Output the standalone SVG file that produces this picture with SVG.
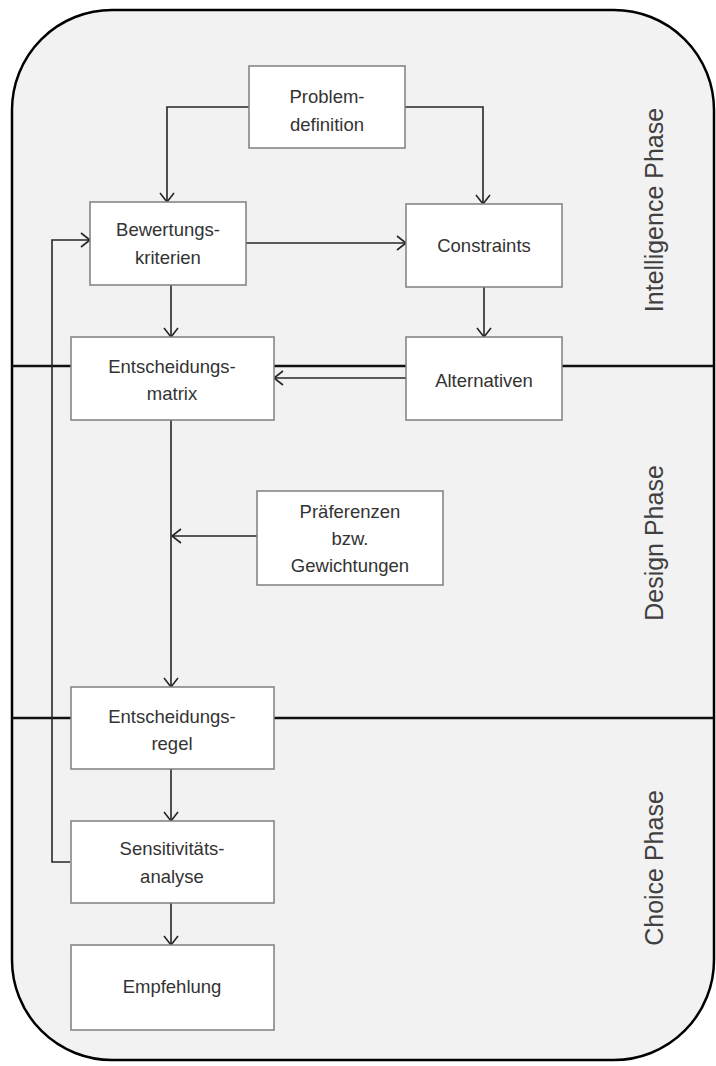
<svg xmlns="http://www.w3.org/2000/svg" width="716" height="1066" viewBox="0 0 716 1066">
<defs>
<marker id="arr" markerUnits="userSpaceOnUse" markerWidth="14" markerHeight="16" refX="10" refY="8" orient="auto">
<path d="M1,1 L10,8 L1,15" fill="none" stroke="#262626" stroke-width="1.6"/>
</marker>
<style>
.node rect{fill:#ffffff;stroke:#7f7f7f;stroke-width:1.5}
.node text{font-family:"Liberation Sans",Arial,sans-serif;font-size:18.5px;fill:#333333;text-anchor:middle;dominant-baseline:central}
.phase{font-family:"Liberation Sans",Arial,sans-serif;font-size:25px;fill:#404040;text-anchor:middle}
.pl{stroke:#111111;stroke-width:2.5;fill:none}
.c{stroke:#262626;stroke-width:1.6;fill:none;marker-end:url(#arr)}
</style>
</defs>
<rect x="12" y="10" width="702" height="1050" rx="100" ry="100" fill="#f2f2f2" stroke="#000000" stroke-width="2.5"/>
<g id="phases">
<line class="pl" x1="12" y1="366" x2="714" y2="366"/>
<line class="pl" x1="12" y1="718" x2="714" y2="718"/>
<text class="phase" transform="translate(663,210) rotate(-90)">Intelligence Phase</text>
<text class="phase" transform="translate(663,543) rotate(-90)">Design Phase</text>
<text class="phase" transform="translate(663,868) rotate(-90)">Choice Phase</text>
</g>
<g id="connectors">
<path class="c" d="M249,107 H167 V202"/>
<path class="c" d="M405,107 H483 V204"/>
<path class="c" d="M246,243 H406"/>
<path class="c" d="M171,285 V337"/>
<path class="c" d="M484,287 V337"/>
<path class="c" d="M406,378 H274"/>
<path class="c" d="M171,420 V687"/>
<path class="c" d="M257,536 H172"/>
<path class="c" d="M171,769 V821"/>
<path class="c" d="M171,903 V945"/>
<path class="c" d="M70,862 H52 V240 H90"/>
</g>
<g id="problemdefinition" class="node">
<rect x="249" y="66" width="156" height="82"/>
<text x="327" y="96">Problem-</text>
<text x="327" y="124">definition</text>
</g>
<g id="bewertungskriterien" class="node">
<rect x="90" y="202" width="156" height="83"/>
<text x="168" y="229">Bewertungs-</text>
<text x="168" y="257">kriterien</text>
</g>
<g id="constraints" class="node">
<rect x="406" y="204" width="156" height="83"/>
<text x="484" y="245">Constraints</text>
</g>
<g id="entscheidungsmatrix" class="node">
<rect x="71" y="337" width="203" height="83"/>
<text x="172" y="366">Entscheidungs-</text>
<text x="172" y="393">matrix</text>
</g>
<g id="alternativen" class="node">
<rect x="406" y="337" width="156" height="83"/>
<text x="484" y="380">Alternativen</text>
</g>
<g id="praeferenzen" class="node">
<rect x="257" y="491" width="186" height="94"/>
<text x="350" y="511">Präferenzen</text>
<text x="350" y="538">bzw.</text>
<text x="350" y="565">Gewichtungen</text>
</g>
<g id="entscheidungsregel" class="node">
<rect x="71" y="687" width="203" height="82"/>
<text x="172" y="716">Entscheidungs-</text>
<text x="172" y="743">regel</text>
</g>
<g id="sensitivitaetsanalyse" class="node">
<rect x="71" y="821" width="203" height="82"/>
<text x="172" y="848">Sensitivitäts-</text>
<text x="172" y="876">analyse</text>
</g>
<g id="empfehlung" class="node">
<rect x="71" y="945" width="203" height="85"/>
<text x="172" y="986">Empfehlung</text>
</g>
</svg>
